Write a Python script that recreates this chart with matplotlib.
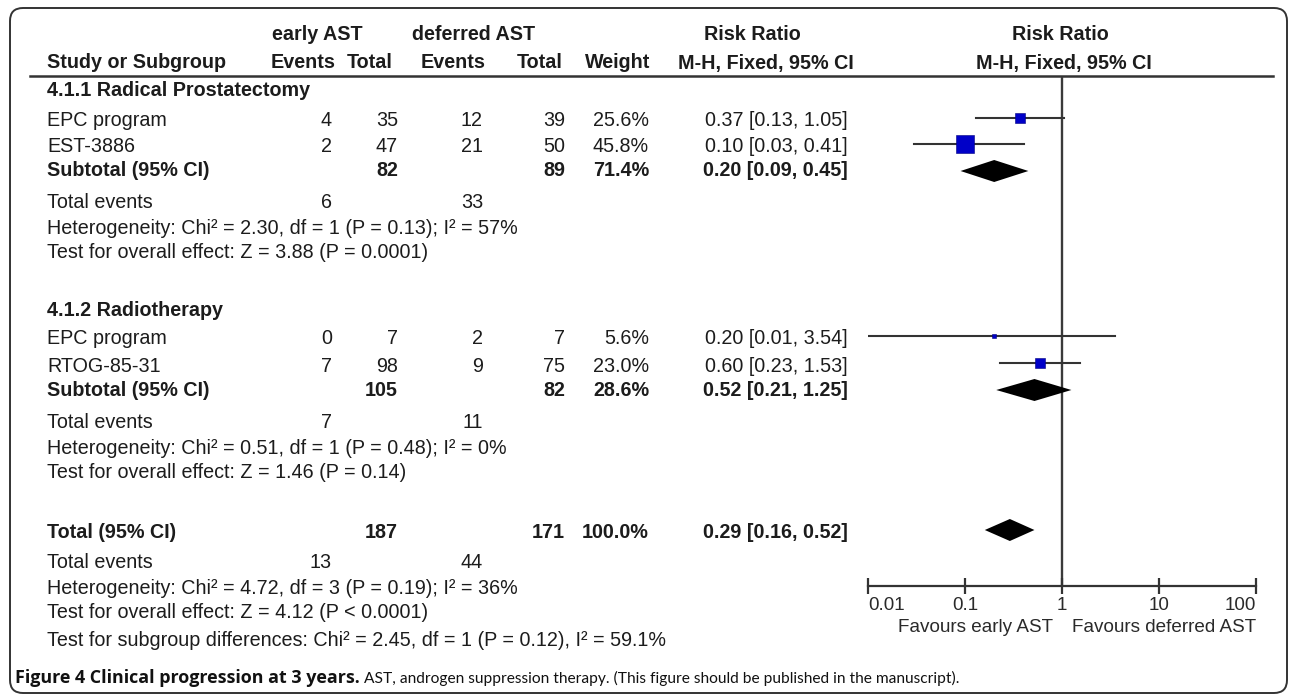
import numpy as np
import matplotlib
matplotlib.use("Agg")
import matplotlib.pyplot as plt
from matplotlib.patches import FancyBboxPatch


# =============================
# DATA
# =============================

subgroup_names = ["4.1.1 Radical Prostatectomy", "4.1.2 Radiotherapy"]
study_names = [["EPC program", "EST-3886"], ["EPC program", "RTOG-85-31"]]
early_events = [[4, 2], [0, 7]]
early_total = [[35, 47], [7, 98]]
deferred_events = [[12, 21], [2, 9]]
deferred_total = [[39, 50], [7, 75]]
study_weight = [[25.6, 45.8], [5.6, 23.0]]
study_rr = [[0.37, 0.10], [0.20, 0.60]]
study_lo = [[0.13, 0.03], [0.01, 0.23]]
study_hi = [[1.05, 0.41], [3.54, 1.53]]

sub_early_total = [82, 105]
sub_deferred_total = [89, 82]
sub_weight = [71.4, 28.6]
sub_rr = [0.20, 0.52]
sub_lo = [0.09, 0.21]
sub_hi = [0.45, 1.25]
sub_early_events = [6, 7]
sub_deferred_events = [33, 11]
sub_het = ["Heterogeneity: Chi² = 2.30, df = 1 (P = 0.13); I² = 57%",
           "Heterogeneity: Chi² = 0.51, df = 1 (P = 0.48); I² = 0%"]
sub_effect = ["Test for overall effect: Z = 3.88 (P = 0.0001)",
              "Test for overall effect: Z = 1.46 (P = 0.14)"]

total_early = 187
total_deferred = 171
total_weight = 100.0
total_rr = 0.29
total_lo = 0.16
total_hi = 0.52
total_early_events = 13
total_deferred_events = 44
total_het = "Heterogeneity: Chi² = 4.72, df = 3 (P = 0.19); I² = 36%"
total_effect = "Test for overall effect: Z = 4.12 (P < 0.0001)"
subgroup_diff = "Test for subgroup differences: Chi² = 2.45, df = 1 (P = 0.12), I² = 59.1%"

tick_values = [0.01, 0.1, 1, 10, 100]
tick_labels = ["0.01", "0.1", "1", "10", "100"]
favours_left = "Favours early AST"
favours_right = "Favours deferred AST"

caption_bold = "Figure 4 Clinical progression at 3 years."
caption_rest = " AST, androgen suppression therapy. (This figure should be published in the manuscript)."


# =============================
# LAYOUT (pixels, y down)
# =============================

W, H = 1290, 698
block_rows = [[91, 121, 147, 171, 202, 228, 253],
              [311, 339, 366, 390, 422, 449, 473]]
total_rows = [532, 562, 588, 613, 640]

X_NAME = 47
X_EE, X_ET, X_DE, X_DT, X_W, X_RR = 332, 398, 483, 565, 649, 848

FONT = "Liberation Sans"
FS = 14.2
TXT = "#1c1c1c"
LINE = "#333333"
BLUE = "#0000c8"

plt.rcParams["font.family"] = FONT

fig = plt.figure(figsize=(W / 100, H / 100), dpi=100)
ax = fig.add_axes([0, 0, 1, 1])
ax.set_xlim(0, W)
ax.set_ylim(H, 0)
ax.axis("off")

# forest panel: x from 868 to 1256 px, y from 77 to 586 px
fx0, fx1, fy0, fy1 = 868, 1256, 77, 586
fax = fig.add_axes([fx0 / W, 1 - fy1 / H, (fx1 - fx0) / W, (fy1 - fy0) / H])
fax.set_facecolor("none")
fax.set_xscale("log")
fax.set_xlim(0.01, 100)
fax.set_ylim(fy1, fy0)
for s in ["top", "left", "right"]:
    fax.spines[s].set_visible(False)
fax.spines["bottom"].set_linewidth(1.6)
fax.spines["bottom"].set_color(LINE)
fax.set_yticks([])
fax.set_xticks(tick_values)
fax.set_xticklabels(tick_labels)
fax.minorticks_off()
fax.tick_params(axis="x", direction="inout", length=12, width=1.6, color=LINE,
                labelsize=13.6, labelcolor="#2a2a2a", pad=2)
lbls = fax.get_xticklabels()
lbls[0].set_ha("left")
lbls[-1].set_ha("right")
fax.axvline(1, color="#3a3a3a", lw=1.7, zorder=1)


def txt(x, y, s, ha="left", bold=False, size=FS, color=TXT):
    ax.text(x, y, s, ha=ha, va="center", fontsize=size, color=color,
            fontweight="bold" if bold else "normal")


def diamond(y, rr, lo, hi, h=22):
    fax.fill([lo, rr, hi, rr], [y, y - h / 2, y, y + h / 2], color="black",
             zorder=3, lw=0)


# =============================
# HEADER
# =============================

txt(317, 35, "early AST", ha="center", bold=True)
txt(474, 35, "deferred AST", ha="center", bold=True)
txt(752, 35, "Risk Ratio", ha="center", bold=True)
txt(1060, 35, "Risk Ratio", ha="center", bold=True)
txt(X_NAME, 63, "Study or Subgroup", bold=True)
txt(335, 63, "Events", ha="right", bold=True)
txt(393, 63, "Total", ha="right", bold=True)
txt(485, 63, "Events", ha="right", bold=True)
txt(563, 63, "Total", ha="right", bold=True)
txt(650, 63, "Weight", ha="right", bold=True)
txt(766, 63, "M-H, Fixed, 95% CI", ha="center", bold=True)
txt(1064, 63, "M-H, Fixed, 95% CI", ha="center", bold=True)
ax.plot([30, 1273], [76, 76], color=LINE, lw=1.8)

# =============================
# SUBGROUPS
# =============================

for g in range(2):
    ys = block_rows[g]
    txt(X_NAME, ys[0], subgroup_names[g], bold=True)
    for i in range(2):
        y = ys[1 + i]
        txt(X_NAME, y, study_names[g][i])
        txt(X_EE, y, str(early_events[g][i]), ha="right")
        txt(X_ET, y, str(early_total[g][i]), ha="right")
        txt(X_DE, y, str(deferred_events[g][i]), ha="right")
        txt(X_DT, y, str(deferred_total[g][i]), ha="right")
        txt(X_W, y, f"{study_weight[g][i]:.1f}%", ha="right")
        txt(X_RR, y, f"{study_rr[g][i]:.2f} [{study_lo[g][i]:.2f}, {study_hi[g][i]:.2f}]", ha="right")
        fax.plot([study_lo[g][i], study_hi[g][i]], [y - 3, y - 3], color=LINE, lw=1.5, zorder=2)
        # square side grows with study weight
        side = 0.8 * study_weight[g][i] ** 0.8
        fax.plot(study_rr[g][i], y - 3, marker="s", ms=side * 0.72, color=BLUE,
                 mec="#000080", mew=0.4, zorder=4)
    y = ys[3]
    txt(X_NAME, y, "Subtotal (95% CI)", bold=True)
    txt(X_ET, y, str(sub_early_total[g]), ha="right", bold=True)
    txt(X_DT, y, str(sub_deferred_total[g]), ha="right", bold=True)
    txt(X_W, y, f"{sub_weight[g]:.1f}%", ha="right", bold=True)
    txt(X_RR, y, f"{sub_rr[g]:.2f} [{sub_lo[g]:.2f}, {sub_hi[g]:.2f}]", ha="right", bold=True)
    diamond(y, sub_rr[g], sub_lo[g], sub_hi[g])
    y = ys[4]
    txt(X_NAME, y, "Total events")
    txt(X_EE, y, str(sub_early_events[g]), ha="right")
    txt(X_DE, y, str(sub_deferred_events[g]), ha="right")
    txt(X_NAME, ys[5], sub_het[g])
    txt(X_NAME, ys[6], sub_effect[g])

# =============================
# OVERALL
# =============================

y = total_rows[0]
txt(X_NAME, y, "Total (95% CI)", bold=True)
txt(X_ET, y, str(total_early), ha="right", bold=True)
txt(X_DT, y, str(total_deferred), ha="right", bold=True)
txt(X_W, y, f"{total_weight:.1f}%", ha="right", bold=True)
txt(X_RR, y, f"{total_rr:.2f} [{total_lo:.2f}, {total_hi:.2f}]", ha="right", bold=True)
diamond(y - 2, total_rr, total_lo, total_hi)
txt(X_NAME, total_rows[1], "Total events")
txt(X_EE, total_rows[1], str(total_early_events), ha="right")
txt(X_DE, total_rows[1], str(total_deferred_events), ha="right")
txt(X_NAME, total_rows[2], total_het)
txt(X_NAME, total_rows[3], total_effect)
txt(X_NAME, total_rows[4], subgroup_diff)

txt(1053, 627, favours_left, ha="right", size=13.6, color="#2a2a2a")
txt(1072, 627, favours_right, size=13.6, color="#2a2a2a")

# =============================
# FRAME + CAPTION
# =============================

frame = FancyBboxPatch((10, 8), 1277, 685, boxstyle="round,pad=0,rounding_size=13",
                       fill=False, ec=LINE, lw=1.4, transform=ax.transData)
ax.add_patch(frame)

t1 = ax.text(15, 678, caption_bold, ha="left", va="center", fontsize=12.9,
             fontweight="bold", family="Open Sans", color="#111111")
fig.canvas.draw()
bb = t1.get_window_extent().transformed(ax.transData.inverted())
ax.text(bb.x1, 678, caption_rest, ha="left", va="center", fontsize=11.2,
        family="Lato", color="#111111")

fig.savefig("out.png", dpi=100)
